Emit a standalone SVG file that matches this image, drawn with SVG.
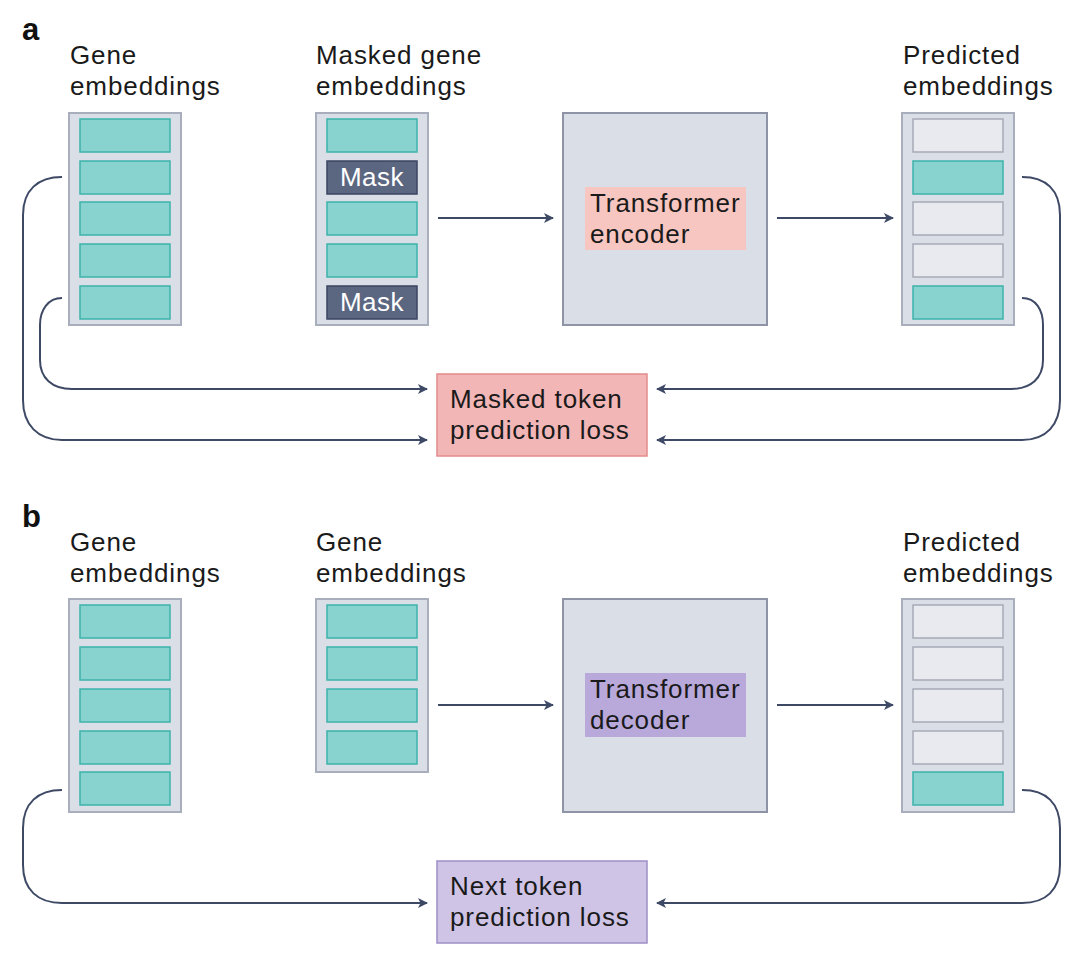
<svg xmlns="http://www.w3.org/2000/svg" width="1080" height="962" viewBox="0 0 1080 962">
<defs>
<style>
.t{font-family:"Liberation Sans","Noto Sans",sans-serif;font-size:26px;letter-spacing:0.9px;fill:#1a1a1a}
.pl{font-family:"Liberation Sans","Noto Sans",sans-serif;font-size:31px;font-weight:bold;fill:#111}
.col{fill:#d9dee7;stroke:#a9aebd;stroke-width:2}
.teal{fill:#88d3cf;stroke:#3db3ab;stroke-width:1.5}
.grey{fill:#e8eaf0;stroke:#a7aab6;stroke-width:1.5}
.mask{fill:#5b6680;stroke:#3b4560;stroke-width:1.5}
.mt{font-family:"Liberation Sans","Noto Sans",sans-serif;font-size:26px;letter-spacing:0.5px;fill:#ffffff}
.tf{fill:#d9dee7;stroke:#8e94a5;stroke-width:2}
.c{fill:none;stroke:#3e4965;stroke-width:2}
</style>
<marker id="ah" viewBox="0 0 10 10" refX="9" refY="5" markerWidth="10" markerHeight="10" markerUnits="userSpaceOnUse" orient="auto">
<path d="M0,0 L10,5 L0,10 L2.5,5 Z" fill="#3e4965"/>
</marker>
</defs>
<rect width="1080" height="962" fill="#ffffff"/>

<text class="pl" x="22" y="40">a</text>
<text class="pl" x="22" y="527">b</text>

<!-- Panel a -->
<g id="a-gene">
<text class="t" x="70" y="64">Gene</text>
<text class="t" x="70" y="95">embeddings</text>
<rect class="col" x="69" y="113" width="112" height="212"/>
<rect class="teal" x="80" y="119" width="90" height="33"/>
<rect class="teal" x="80" y="161" width="90" height="33"/>
<rect class="teal" x="80" y="202" width="90" height="33"/>
<rect class="teal" x="80" y="244" width="90" height="33"/>
<rect class="teal" x="80" y="286" width="90" height="33"/>
</g>
<g id="a-masked">
<text class="t" x="316" y="64">Masked gene</text>
<text class="t" x="316" y="95">embeddings</text>
<rect class="col" x="316" y="113" width="112" height="212"/>
<rect class="teal" x="327" y="119" width="90" height="33"/>
<rect class="mask" x="327" y="161" width="90" height="33"/>
<text class="mt" x="372" y="186" text-anchor="middle">Mask</text>
<rect class="teal" x="327" y="202" width="90" height="33"/>
<rect class="teal" x="327" y="244" width="90" height="33"/>
<rect class="mask" x="327" y="286" width="90" height="33"/>
<text class="mt" x="372" y="311" text-anchor="middle">Mask</text>
</g>
<g id="a-encoder">
<rect class="tf" x="563" y="113" width="204" height="212"/>
<rect x="585" y="187" width="161" height="63" fill="#f8c6c0"/>
<text class="t" x="590" y="212">Transformer</text>
<text class="t" x="590" y="243">encoder</text>
</g>
<g id="a-pred">
<text class="t" x="903" y="64">Predicted</text>
<text class="t" x="903" y="95">embeddings</text>
<rect class="col" x="902" y="113" width="112" height="212"/>
<rect class="grey" x="913" y="119" width="90" height="33"/>
<rect class="teal" x="913" y="161" width="90" height="33"/>
<rect class="grey" x="913" y="202" width="90" height="33"/>
<rect class="grey" x="913" y="244" width="90" height="33"/>
<rect class="teal" x="913" y="286" width="90" height="33"/>
</g>
<g id="a-loss">
<rect x="437" y="374" width="210" height="82" fill="#f2b6b6" stroke="#e48b8b" stroke-width="1.5"/>
<text class="t" x="450" y="408">Masked token</text>
<text class="t" x="450" y="439">prediction loss</text>
</g>

<!-- Panel b -->
<g id="b-gene">
<text class="t" x="70" y="551">Gene</text>
<text class="t" x="70" y="582">embeddings</text>
<rect class="col" x="69" y="599" width="112" height="213"/>
<rect class="teal" x="80" y="605" width="90" height="33"/>
<rect class="teal" x="80" y="647" width="90" height="33"/>
<rect class="teal" x="80" y="689" width="90" height="33"/>
<rect class="teal" x="80" y="731" width="90" height="33"/>
<rect class="teal" x="80" y="772" width="90" height="33"/>
</g>
<g id="b-gene2">
<text class="t" x="316" y="551">Gene</text>
<text class="t" x="316" y="582">embeddings</text>
<rect class="col" x="316" y="599" width="112" height="173"/>
<rect class="teal" x="327" y="605" width="90" height="33"/>
<rect class="teal" x="327" y="647" width="90" height="33"/>
<rect class="teal" x="327" y="689" width="90" height="33"/>
<rect class="teal" x="327" y="731" width="90" height="33"/>
</g>
<g id="b-decoder">
<rect class="tf" x="563" y="599" width="204" height="213"/>
<rect x="585" y="673" width="161" height="64" fill="#b9a9da"/>
<text class="t" x="590" y="698">Transformer</text>
<text class="t" x="590" y="729">decoder</text>
</g>
<g id="b-pred">
<text class="t" x="903" y="551">Predicted</text>
<text class="t" x="903" y="582">embeddings</text>
<rect class="col" x="902" y="599" width="112" height="213"/>
<rect class="grey" x="913" y="605" width="90" height="33"/>
<rect class="grey" x="913" y="647" width="90" height="33"/>
<rect class="grey" x="913" y="689" width="90" height="33"/>
<rect class="grey" x="913" y="731" width="90" height="33"/>
<rect class="teal" x="913" y="772" width="90" height="33"/>
</g>
<g id="b-loss">
<rect x="437" y="861" width="210" height="82" fill="#cfc4e5" stroke="#9d8fc6" stroke-width="1.5"/>
<text class="t" x="450" y="895">Next token</text>
<text class="t" x="450" y="926">prediction loss</text>
</g>

<g id="connectors">
<path class="c" d="M438,218 H553" marker-end="url(#ah)"/>
<path class="c" d="M777,218 H893" marker-end="url(#ah)"/>
<path class="c" d="M62,177 C38,177 23,190 23,215 V400 C23,425 38,440 62,440 H427" marker-end="url(#ah)"/>
<path class="c" d="M62,298 C48,298 40,310 40,325 V360 C40,378 52,389 72,389 H427" marker-end="url(#ah)"/>
<path class="c" d="M1022,177 C1046,177 1060,190 1060,215 V400 C1060,425 1046,440 1022,440 H657" marker-end="url(#ah)"/>
<path class="c" d="M1022,298 C1036,298 1043,310 1043,325 V360 C1043,378 1031,389 1011,389 H657" marker-end="url(#ah)"/>
<path class="c" d="M438,705 H553" marker-end="url(#ah)"/>
<path class="c" d="M777,705 H893" marker-end="url(#ah)"/>
<path class="c" d="M62,790 C38,790 23,803 23,828 V865 C23,890 38,903 62,903 H427" marker-end="url(#ah)"/>
<path class="c" d="M1022,790 C1046,790 1060,803 1060,828 V865 C1060,890 1046,903 1022,903 H657" marker-end="url(#ah)"/>
</g>
</svg>
